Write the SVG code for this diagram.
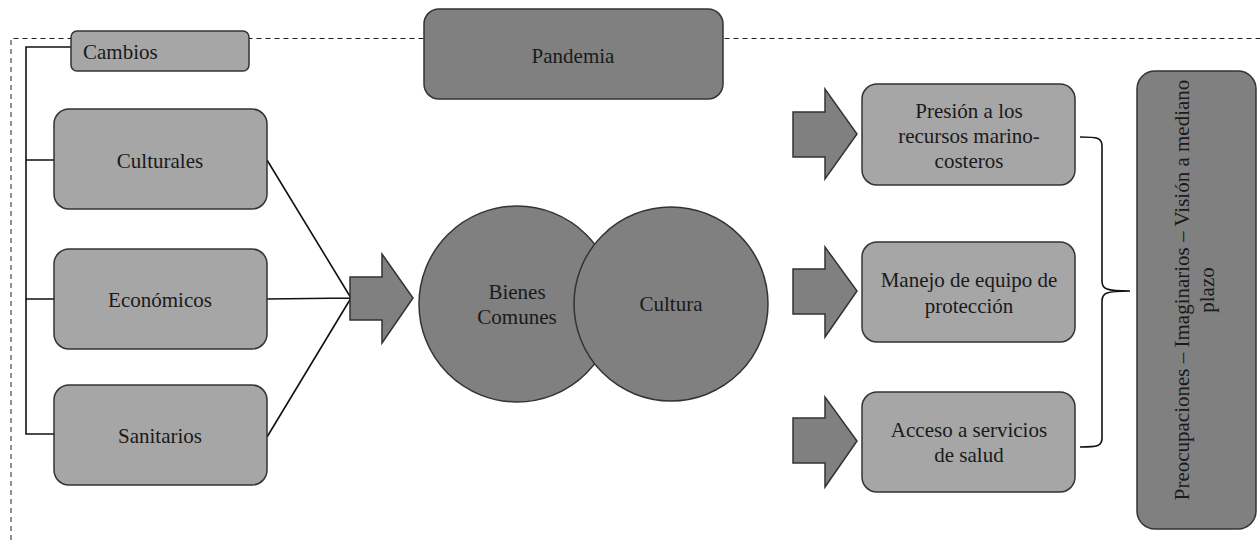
<svg xmlns="http://www.w3.org/2000/svg" width="1260" height="540" viewBox="0 0 1260 540">
<style>
.light{fill:#a6a6a6;stroke:#333;stroke-width:1.5}
.dark{fill:#808080;stroke:#333;stroke-width:1.5}
text{font-family:'Liberation Serif','DejaVu Serif',serif;font-size:21px;fill:#1a1a1a;text-anchor:middle}
.ln{stroke:#111;stroke-width:1.6;fill:none}
.dash{stroke:#222;stroke-width:1;stroke-dasharray:5,4;fill:none}
</style>
<rect width="1260" height="540" fill="#fff"/>
<g id="frame">
<path class="dash" d="M11,540 V38.5 H1260"/>
</g>
<g id="connectors">
<path class="ln" d="M71,47 H26 V434 H54 M26,160 H54 M26,299 H54"/>
<path class="ln" d="M267,160 L351,298 M267,299 L351,298 M267,437 L351,298"/>
<path class="ln" d="M1080,137 C1098,137 1102,138 1102,146 V281 C1102,289 1106,291 1130,291 C1106,291 1102,293 1102,301 V438 C1102,446 1098,447 1080,447"/>
<path class="dark" d="M350,277 H382 V254 L413,298 L382,343 V320 H350 Z"/>
<path class="dark" d="M793,112 H825 V89 L857,134 L825,179 V157 H793 Z"/>
<path class="dark" d="M793,269 H825 V247 L857,291 L825,337 V314 H793 Z"/>
<path class="dark" d="M793,418 H825 V397 L857,441 L825,487 V463 H793 Z"/>
</g>
<g id="cambios">
<rect class="light" x="71" y="31" width="178" height="40" rx="6"/>
<text x="83" y="59" font-family="Liberation Serif, serif" style="text-anchor:start">Cambios</text>
</g>
<g id="pandemia">
<rect class="dark" x="424" y="9" width="299" height="90" rx="15"/>
<text x="573" y="63" font-family="Liberation Serif, serif">Pandemia</text>
</g>
<g id="culturales">
<rect class="light" x="54" y="109" width="213" height="100" rx="15"/>
<text x="160" y="168" font-family="Liberation Serif, serif">Culturales</text>
</g>
<g id="economicos">
<rect class="light" x="54" y="249" width="213" height="100" rx="15"/>
<text x="160" y="307" font-family="Liberation Serif, serif">Económicos</text>
</g>
<g id="sanitarios">
<rect class="light" x="54" y="385" width="213" height="100" rx="15"/>
<text x="160" y="443" font-family="Liberation Serif, serif">Sanitarios</text>
</g>
<g id="bienes">
<circle class="dark" cx="517" cy="304" r="98"/>
<text x="517" y="299" font-family="Liberation Serif, serif">Bienes</text>
<text x="517" y="324" font-family="Liberation Serif, serif">Comunes</text>
</g>
<g id="cultura">
<circle class="dark" cx="671" cy="304" r="97"/>
<text x="671" y="311" font-family="Liberation Serif, serif">Cultura</text>
</g>
<g id="presion">
<rect class="light" x="862" y="84" width="213" height="101" rx="15"/>
<text x="969" y="118" font-family="Liberation Serif, serif">Presión a los</text>
<text x="969" y="143" font-family="Liberation Serif, serif">recursos marino-</text>
<text x="969" y="168" font-family="Liberation Serif, serif">costeros</text>
</g>
<g id="manejo">
<rect class="light" x="862" y="242" width="213" height="100" rx="15"/>
<text x="969" y="287" font-family="Liberation Serif, serif">Manejo de equipo de</text>
<text x="969" y="313" font-family="Liberation Serif, serif">protección</text>
</g>
<g id="acceso">
<rect class="light" x="862" y="392" width="213" height="100" rx="15"/>
<text x="969" y="437" font-family="Liberation Serif, serif">Acceso a servicios</text>
<text x="969" y="462" font-family="Liberation Serif, serif">de salud</text>
</g>
<g id="preocupaciones">
<rect class="dark" x="1137" y="71" width="119" height="458" rx="18"/>
<g transform="translate(1189,290) rotate(-90)">
<text x="0" y="0" font-family="Liberation Serif, serif">Preocupaciones – Imaginarios – Visión a mediano</text>
<text x="0" y="25" font-family="Liberation Serif, serif">plazo</text>
</g>
</g>
</svg>
